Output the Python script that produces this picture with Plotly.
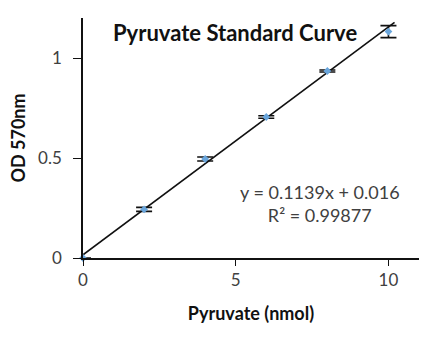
import plotly.graph_objects as go

amount_nmol = [0, 2, 4, 6, 8, 10]
od570 = [0.0, 0.243, 0.495, 0.705, 0.935, 1.132]
od_err = [0.0, 0.01, 0.01, 0.006, 0.005, 0.03]
slope = 0.1139
intercept = 0.016
r2 = 0.99877
fit_x = [0, 10.2]
fit_y = [slope * x + intercept for x in fit_x]

fig = go.Figure()
fig.add_trace(go.Scatter(
    x=fit_x, y=fit_y, mode="lines",
    line=dict(color="#111111", width=1.6), hoverinfo="skip", showlegend=False,
))
fig.add_trace(go.Scatter(
    x=amount_nmol, y=od570, mode="markers",
    marker=dict(color="#6aa6dc", size=6, symbol="diamond"),
    error_y=dict(type="data", array=od_err, visible=True, color="#111111",
                 thickness=1.6, width=8),
    cliponaxis=False, showlegend=False,
))

font_main = "Lato, 'Open Sans', sans-serif"
fig.update_layout(
    width=436, height=345,
    margin=dict(l=83, r=17, t=18, b=87),
    paper_bgcolor="white", plot_bgcolor="white",
    font=dict(family=font_main, color="#404040", size=17),
    showlegend=False,
    xaxis=dict(
        range=[0, 11], tickvals=[0, 5, 10], ticktext=["0", "5", "10"],
        showline=True, linecolor="#111111", linewidth=1.6,
        ticks="outside", ticklen=6, tickcolor="#111111", tickwidth=1.4,
        showgrid=False, zeroline=False,
        tickfont=dict(size=17, color="#404040"),
        title=dict(text="<b>Pyruvate (nmol)</b>", font=dict(size=18, color="#111111"), standoff=18),
    ),
    yaxis=dict(
        range=[0, 1.2], tickvals=[0, 0.5, 1], ticktext=["0", "0.5", "1"],
        showline=True, linecolor="#111111", linewidth=1.6,
        ticks="outside", ticklen=8, tickcolor="#111111", tickwidth=1.4,
        ticklabelstandoff=8,
        showgrid=False, zeroline=False,
        tickfont=dict(size=17, color="#404040"),
        title=dict(text="<b>OD 570nm</b>", font=dict(size=18, color="#111111"), standoff=8),
    ),
)
fig.add_annotation(text="<b>Pyruvate Standard Curve</b>", xref="x", yref="y",
                   x=(235 - 83) / 30.545, y=(258 - 32) / 200.0, showarrow=False,
                   font=dict(size=22, color="#111111"))
fig.add_annotation(text=f"y = {slope}x + {intercept}<br>R² = {r2}", xref="x", yref="y",
                   x=(320 - 83) / 30.545, y=(258 - 203) / 200.0, showarrow=False,
                   align="center", font=dict(size=18, color="#404040"))

fig.write_html("out.html")
